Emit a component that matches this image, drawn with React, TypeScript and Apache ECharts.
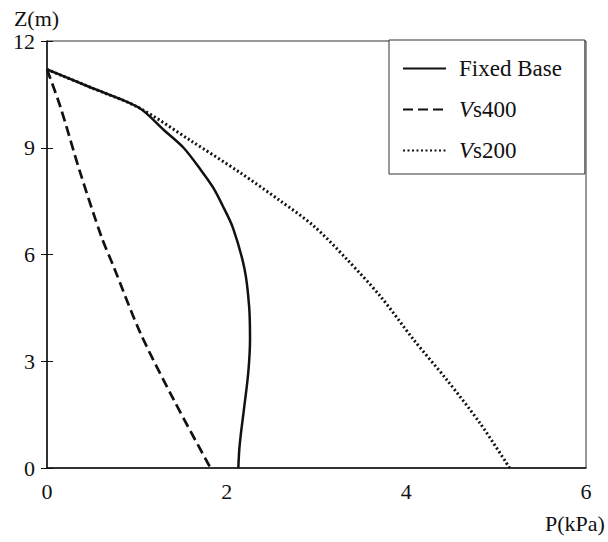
import React, { useEffect, useRef } from "react";
import * as echarts from "echarts";

// Fixed Base curve: pressure P (kPa) and height Z (m)
const fixedBaseP = [0, 0.5, 1.02, 1.3, 1.52, 1.72, 1.85, 1.95, 2.07, 2.2, 2.25, 2.26, 2.24, 2.19, 2.16, 2.14, 2.13];
const fixedBaseZ = [11.2, 10.68, 10.13, 9.5, 9.0, 8.35, 7.88, 7.4, 6.75, 5.58, 4.54, 3.61, 2.67, 1.6, 1.0, 0.5, 0];

// Vs400 curve
const vs400P = [0, 0.145, 0.37, 0.61, 0.74, 1.04, 1.41, 1.82];
const vs400Z = [11.2, 10.18, 8.3, 6.47, 5.67, 3.79, 1.92, 0];

// Vs200 curve
const vs200P = [0, 0.5, 1.02, 1.6, 2.15, 2.59, 2.97, 3.34, 3.71, 4.08, 4.45, 4.82, 5.15];
const vs200Z = [11.2, 10.68, 10.13, 9.2, 8.3, 7.52, 6.8, 5.86, 4.83, 3.61, 2.48, 1.26, 0];

const seriesNames = ["Fixed Base", "Vs400", "Vs200"];
const xTicks = [0, 2, 4, 6];
const yTicks = [0, 3, 6, 9, 12];

const FONT = "Liberation Serif";
const INK = "#111";

const pairs = (p: number[], z: number[]) => p.map((v, i) => [v, z[i]]);

export default function App() {
  const ref = useRef<HTMLDivElement>(null);

  useEffect(() => {
    if (!ref.current) return;
    const chart = echarts.init(ref.current, null, { renderer: "svg" });
    chart.setOption({
      animation: false,
      backgroundColor: "#fff",
      textStyle: { fontFamily: FONT },
      grid: {
        left: 47,
        right: 22,
        top: 41,
        bottom: 74,
        show: true,
        borderColor: "#333",
        borderWidth: 1,
        backgroundColor: "transparent",
      },
      xAxis: {
        type: "value",
        min: xTicks[0],
        max: xTicks[xTicks.length - 1],
        interval: 2,
        name: "P(kPa)",
        nameLocation: "end",
        nameGap: -41,
        nameTextStyle: {
          fontFamily: FONT,
          fontSize: 22,
          color: INK,
          align: "left",
          verticalAlign: "top",
          padding: [44, 0, 0, 0],
        },
        axisLine: { show: true, lineStyle: { color: INK, width: 1.5 } },
        axisTick: { show: false },
        splitLine: { show: false },
        axisLabel: { fontFamily: FONT, fontSize: 22, color: INK, margin: 12 },
      },
      yAxis: [
        {
          type: "value",
          min: yTicks[0],
          max: yTicks[yTicks.length - 1],
          interval: 3,
          name: "Z(m)",
          nameLocation: "end",
          nameGap: 12,
          nameTextStyle: {
            fontFamily: FONT,
            fontSize: 22,
            color: INK,
            align: "center",
            verticalAlign: "bottom",
            padding: [0, 21, 0, 0],
          },
          axisLine: { show: true, lineStyle: { color: INK, width: 1.5 } },
          axisTick: { show: true, inside: false, length: 6, lineStyle: { color: INK, width: 1 } },
          splitLine: { show: false },
          axisLabel: { fontFamily: FONT, fontSize: 22, color: INK, margin: 12 },
        },
        {
          type: "value",
          position: "left",
          min: yTicks[0],
          max: yTicks[yTicks.length - 1],
          interval: 3,
          axisLine: { show: false },
          axisTick: { show: true, inside: true, length: 6, lineStyle: { color: INK, width: 1 } },
          axisLabel: { show: false },
          splitLine: { show: false },
        },
      ],
      legend: {
        orient: "vertical",
        left: 389,
        top: 40,
        data: seriesNames,
        backgroundColor: "#fff",
        borderColor: "#333",
        borderWidth: 1,
        borderRadius: 0,
        padding: [17, 23, 12, 13],
        itemWidth: 43,
        itemHeight: 14,
        itemGap: 18,
        itemStyle: { opacity: 0 },
        formatter: (name: string) =>
          name.startsWith("Vs") ? `{i|V}{n|${name.slice(1)}}` : `{n|${name}}`,
        textStyle: {
          fontFamily: FONT,
          fontSize: 23,
          color: INK,
          padding: [0, 0, 0, 8],
          rich: {
            i: { fontFamily: FONT, fontSize: 23, fontStyle: "italic", color: INK },
            n: { fontFamily: FONT, fontSize: 23, color: INK },
          },
        },
      },
      series: [
        {
          name: seriesNames[0],
          type: "line",
          data: pairs(fixedBaseP, fixedBaseZ),
          smooth: 0.3,
          symbol: "none",
          lineStyle: { color: INK, width: 2.5, type: "solid" },
          itemStyle: { color: INK },
        },
        {
          name: seriesNames[1],
          type: "line",
          data: pairs(vs400P, vs400Z),
          smooth: 0.3,
          symbol: "none",
          lineStyle: { color: INK, width: 2.7, type: [10, 5] },
          itemStyle: { color: INK },
        },
        {
          name: seriesNames[2],
          type: "line",
          data: pairs(vs200P, vs200Z),
          smooth: 0.3,
          symbol: "none",
          lineStyle: { color: INK, width: 3, type: [2, 2.5] },
          itemStyle: { color: INK },
        },
      ],
    });
    return () => chart.dispose();
  }, []);

  return (
    <div
      ref={ref}
      style={{ position: "absolute", left: 0, top: 0, width: 608, height: 542, background: "#fff" }}
    />
  );
}
